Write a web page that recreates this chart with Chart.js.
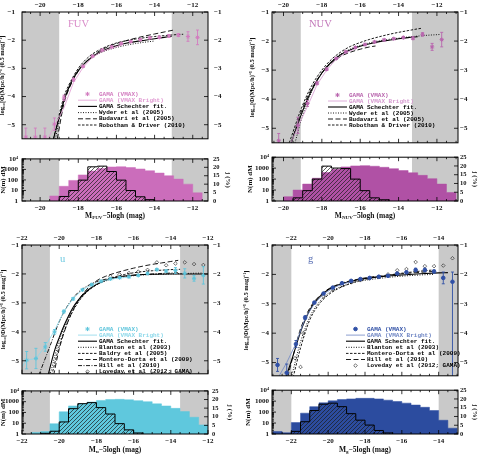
<!DOCTYPE html>
<html>
<head>
<meta charset="utf-8">
<script src="https://cdn.jsdelivr.net/npm/chart.js@4.4.1/dist/chart.umd.min.js"></script>
<style>
  body { margin: 0; background: #fff; }
  #wrap { position: relative; width: 479px; height: 455px; overflow: hidden; }
  canvas { position: absolute; }
</style>
</head>
<body>
<div id="wrap">
  <canvas id="fuvMain" width="240" height="150" style="left:0;top:0"></canvas>
  <canvas id="fuvHist" width="240" height="80" style="left:0;top:150px"></canvas>
  <canvas id="nuvMain" width="239" height="150" style="left:240px;top:0"></canvas>
  <canvas id="nuvHist" width="239" height="80" style="left:240px;top:150px"></canvas>
  <canvas id="uMain" width="240" height="150" style="left:0;top:233px"></canvas>
  <canvas id="uHist" width="240" height="72" style="left:0;top:383px"></canvas>
  <canvas id="gMain" width="239" height="150" style="left:240px;top:233px"></canvas>
  <canvas id="gHist" width="239" height="72" style="left:240px;top:383px"></canvas>
</div>
<script>
// Luminosity functions (FUV, NUV, u, g) with sample histograms underneath

// ---------- FUV ----------
const fuvMag = [-20.75, -20.25, -19.75, -19.25, -18.75, -18.25, -17.75, -17.25, -16.75, -16.25, -15.75, -15.25, -14.75, -14.25, -13.75, -13.25, -12.75, -12.25, -11.75]
const fuvPhi = [-5.44, -5.44, -5.44, -4.98, -4.05, -3.4, -2.93, -2.57, -2.35, -2.24, -2.12, -2.05, -1.98, -1.92, -1.9, -1.85, -1.82, -1.87, -1.9]
const fuvErr = [0.32, 0.32, 0.32, 0.22, 0.1, 0.05, 0.04, 0.03, 0.03, 0.03, 0.03, 0.03, 0.03, 0.03, 0.04, 0.05, 0.05, 0.17, 0.26]
const fuvBrightMag = [-19.75, -19.25, -18.75, -18.25, -17.75, -17.25, -16.75, -16.25, -15.75]
const fuvBrightPhi = [-5.7, -5.05, -4.4, -3.5, -2.97, -2.6, -2.4, -2.28, -2.18]
const fuvFitMag = [-19.3, -19, -18.75, -18.5, -18.25, -18, -17.5, -17, -16.5, -16, -15.5, -15, -14.5, -14, -13.5, -13.1]
const fuvFitPhi = [-5.5, -4.75, -4.15, -3.7, -3.35, -3.08, -2.72, -2.47, -2.31, -2.2, -2.11, -2.05, -2.0, -1.95, -1.9, -1.86]
const fuvWyderMag = [-19.2, -18.75, -18.5, -18, -17.5, -17, -16.5, -16, -15.5, -15, -14.5, -14]
const fuvWyderPhi = [-5.5, -4.1, -3.65, -3.05, -2.72, -2.5, -2.36, -2.26, -2.18, -2.12, -2.07, -2.03]
const fuvBudMag = [-19.1, -18.75, -18.5, -18, -17.5, -17, -16.5, -16, -15.5, -15, -14.5, -14, -13.5, -13]
const fuvBudPhi = [-5.5, -4.25, -3.75, -3.1, -2.7, -2.43, -2.25, -2.12, -2.02, -1.93, -1.85, -1.78, -1.71, -1.64]
const fuvRobMag = [-19.3, -18.75, -18.5, -18, -17.5, -17, -16.5, -16, -15.5, -15, -14.5, -14, -13.5, -13, -12.5]
const fuvRobPhi = [-5.5, -4.0, -3.6, -3.0, -2.62, -2.38, -2.22, -2.1, -2.02, -1.96, -1.91, -1.87, -1.84, -1.81, -1.79]
const fuvNStart = -19.5
const fuvN = [3, 25, 90, 300, 700, 1200, 1700, 1800, 1500, 1100, 750, 450, 250, 120, 40, 6]
const fuvJStart = -19
const fuvJ = [2.7, 6.2, 12.4, 20.3, 20.7, 17.5, 12.4, 6.2, 2.5, 0.8]
const fuvLimits = [-19.0, -13.1]

// ---------- NUV ----------
const nuvMag = [-20.25, -19.25, -18.75, -18.25, -17.75, -17.25, -16.75, -16.25, -15.75, -15.25, -14.75, -14.25, -13.75, -13.25, -12.75, -12.25, -11.75]
const nuvPhi = [-5.43, -4.9, -4.15, -3.45, -2.97, -2.6, -2.37, -2.22, -2.12, -2.03, -1.96, -1.92, -1.88, -1.9, -1.77, -2.2, -1.95]
const nuvErr = [0.25, 0.28, 0.1, 0.05, 0.04, 0.03, 0.03, 0.03, 0.03, 0.03, 0.03, 0.03, 0.04, 0.05, 0.06, 0.12, 0.25]
const nuvBrightMag = [-19.75, -19.25, -18.75, -18.25, -17.75, -17.25, -16.75, -16.25]
const nuvBrightPhi = [-5.7, -4.95, -4.25, -3.5, -3.0, -2.62, -2.4, -2.27]
const nuvFitMag = [-19.6, -19.25, -19, -18.75, -18.5, -18, -17.5, -17, -16.5, -16, -15.5, -15, -14.5, -14, -13.5, -13]
const nuvFitPhi = [-5.5, -4.85, -4.4, -4.0, -3.65, -3.1, -2.72, -2.46, -2.3, -2.18, -2.09, -2.02, -1.97, -1.92, -1.88, -1.85]
const nuvWyderMag = [-19.4, -19, -18.5, -18, -17.5, -17, -16.5, -16, -15.5, -15, -14.5, -14, -13.5, -13, -12.5, -12, -11.8]
const nuvWyderPhi = [-5.5, -4.55, -3.7, -3.1, -2.7, -2.44, -2.27, -2.15, -2.06, -1.99, -1.94, -1.9, -1.86, -1.83, -1.8, -1.78, -1.77]
const nuvBudMag = [-19.6, -19, -18.5, -18, -17.5, -17, -16.5, -16, -15.5, -15.2]
const nuvBudPhi = [-5.5, -4.3, -3.6, -3.1, -2.75, -2.52, -2.38, -2.28, -2.2, -2.17]
const nuvRobMag = [-19.7, -19, -18.5, -18, -17.5, -17, -16.5, -16, -15.5, -15, -14.5, -14, -13.5, -13, -12.8]
const nuvRobPhi = [-5.5, -4.2, -3.5, -3.0, -2.63, -2.37, -2.18, -2.05, -1.94, -1.85, -1.77, -1.7, -1.64, -1.58, -1.56]
const nuvNStart = -20
const nuvN = [2.5, 10, 35, 120, 400, 800, 1300, 1600, 1700, 1500, 1200, 900, 600, 380, 220, 110, 35, 6]
const nuvJStart = -19.5
const nuvJ = [1.8, 5.9, 12.5, 19.9, 18.8, 18.5, 12.5, 5.9, 1.8, 0.7]
const nuvLimits = [-19.1, -13.3]

// ---------- u ----------
const uMag = [-21.75, -21.25, -20.75, -20.25, -19.75, -19.25, -18.75, -18.25, -17.75, -17.25, -16.75, -16.25, -15.75, -15.25, -14.75, -14.25, -13.75, -13.25, -12.75, -12.25]
const uPhi = [-4.98, -4.92, -4.52, -4.0, -3.3, -2.86, -2.55, -2.37, -2.25, -2.17, -2.13, -2.1, -2.05, -1.98, -1.85, -1.9, -1.88, -1.98, -2.15, -2.05]
const uErr = [0.3, 0.35, 0.15, 0.08, 0.05, 0.04, 0.03, 0.03, 0.03, 0.03, 0.03, 0.03, 0.03, 0.03, 0.04, 0.04, 0.1, 0.16, 0.1, 0.3]
const uBrightMag = [-22.1, -21.75, -21.25, -20.75, -20.25, -19.75, -19.25, -18.75, -18.25, -17.75, -17.25, -16.75, -16.25]
const uBrightPhi = [-5.3, -4.98, -4.92, -4.5, -3.95, -3.3, -2.85, -2.55, -2.38, -2.26, -2.18, -2.14, -2.11]
const uFitMag = [-20.6, -20.25, -20, -19.75, -19.5, -19.25, -19, -18.5, -18, -17.5, -17, -16.5, -16, -15.5, -15, -14, -13, -12]
const uFitPhi = [-5.5, -4.65, -4.2, -3.8, -3.45, -3.15, -2.92, -2.58, -2.36, -2.22, -2.13, -2.07, -2.04, -2.02, -2.01, -2.0, -2.0, -2.0]
const uBlantonMag = [-20.5, -20, -19.5, -19, -18.5, -18, -17.5, -17, -16, -15, -14, -13, -12.3]
const uBlantonPhi = [-5.5, -4.3, -3.5, -2.95, -2.6, -2.38, -2.24, -2.15, -2.06, -2.02, -2.0, -1.98, -1.97]
const uBaldryMag = [-20.4, -20, -19.5, -19, -18.5, -18, -17.5, -17, -16.5, -16, -15.5, -15, -14.5, -14, -13.5]
const uBaldryPhi = [-5.5, -4.5, -3.6, -3.0, -2.62, -2.38, -2.22, -2.1, -2.02, -1.96, -1.92, -1.89, -1.87, -1.85, -1.84]
const uMonteroMag = [-20.3, -20, -19.5, -19, -18.5, -18, -17.5, -17, -16.5, -16, -15.5, -15, -14.5, -14, -13.6]
const uMonteroPhi = [-5.5, -4.6, -3.6, -2.95, -2.52, -2.24, -2.08, -1.97, -1.88, -1.8, -1.73, -1.67, -1.62, -1.57, -1.53]
const uHillMag = [-21.1, -20.5, -20, -19.5, -19, -18.5, -18, -17, -16, -15, -14, -13.6]
const uHillPhi = [-5.5, -4.5, -3.65, -3.05, -2.65, -2.42, -2.27, -2.12, -2.05, -2.0, -1.97, -1.96]
const uLoveMag = [-17.25, -16.75, -16.25, -15.75, -15.25, -14.75, -14.25, -13.75, -13.25, -12.75, -12.25]
const uLovePhi = [-2.08, -2.02, -1.97, -1.92, -1.86, -1.6, -1.7, -1.64, -1.6, -1.66, -1.69]
const uNStart = -21.5
const uN = [1.4, 1.7, 9, 115, 400, 630, 930, 1300, 1600, 1650, 1500, 1250, 1000, 630, 400, 240, 120, 36, 7]
const uJStart = -21
const uJ = [0.4, 1.6, 7, 14.7, 17.6, 18.2, 15.3, 11.6, 6, 2.4, 0.6]
const uLimits = [-20.5, -13.5]

// ---------- g ----------
const gMag = [-22.75, -22.25, -21.75, -21.25, -20.75, -20.25, -19.75, -19.25, -18.75, -18.25, -17.75, -17.25, -16.75, -16.25, -15.75, -15.25, -14.75, -14.25, -13.75, -13.25]
const gPhi = [-5.08, -5.35, -4.37, -3.47, -2.96, -2.65, -2.45, -2.3, -2.22, -2.16, -2.12, -2.08, -2.05, -1.97, -1.93, -1.85, -1.85, -1.9, -2.12, -2.25]
const gErr = [0.22, 0.3, 0.12, 0.06, 0.04, 0.03, 0.03, 0.03, 0.03, 0.03, 0.03, 0.03, 0.03, 0.03, 0.04, 0.06, 0.06, 0.05, 0.2, 0.33]
const gErrLow = [0.22, 0.3, 0.12, 0.06, 0.04, 0.03, 0.03, 0.03, 0.03, 0.03, 0.03, 0.03, 0.03, 0.03, 0.04, 0.06, 0.06, 0.05, 0.2, 3.3]
const gBrightMag = [-22.75, -22.25, -21.75, -21.25, -20.75, -20.25, -19.75, -19.25, -18.75]
const gBrightPhi = [-5.55, -5.0, -4.35, -3.5, -3.0, -2.67, -2.47, -2.33, -2.25]
const gFitMag = [-22.3, -22, -21.75, -21.5, -21.25, -21, -20.75, -20.5, -20, -19.5, -19, -18.5, -18, -17, -16, -15, -14, -13.5]
const gFitPhi = [-5.5, -4.95, -4.45, -3.95, -3.55, -3.22, -2.97, -2.78, -2.52, -2.37, -2.27, -2.2, -2.14, -2.07, -2.02, -1.98, -1.95, -1.94]
const gBlantonMag = [-22, -21.5, -21, -20.5, -20, -19.5, -19, -18.5, -18, -17, -16, -15, -14.3]
const gBlantonPhi = [-5.5, -4.3, -3.45, -2.95, -2.65, -2.47, -2.35, -2.26, -2.2, -2.12, -2.06, -2.02, -2.0]
const gMonteroMag = [-21.9, -21.5, -21, -20.5, -20, -19.5, -19, -18.5, -18, -17, -16, -15, -14.3]
const gMonteroPhi = [-5.5, -4.5, -3.55, -3.02, -2.7, -2.5, -2.36, -2.25, -2.17, -2.05, -1.96, -1.89, -1.85]
const gHillMag = [-22.2, -21.75, -21.5, -21, -20.5, -20, -19.5, -19, -18, -17, -16, -15, -14.3]
const gHillPhi = [-5.5, -4.4, -3.85, -3.15, -2.75, -2.5, -2.35, -2.25, -2.12, -2.04, -1.98, -1.93, -1.9]
const gLoveMag = [-21.8, -21.5, -21.35, -20.25, -19.75, -19.25, -18.75, -18.25, -17.75, -17.25, -16.75, -16.25, -15.75, -15.25, -14.75, -14.25, -13.75, -13.25]
const gLovePhi = [-4.85, -5.15, -4.0, -2.75, -2.52, -2.37, -2.27, -2.2, -2.14, -2.08, -2.0, -1.86, -1.82, -1.58, -1.72, -1.72, -1.7, -1.45]
const gNStart = -23
const gN = [1.7, 1.3, 11, 80, 316, 700, 1070, 1400, 1600, 1800, 1800, 1600, 1230, 930, 660, 440, 275, 140, 18, 3.4]
const gJStart = -22
const gJ = [1.5, 7, 13.4, 17, 17.6, 15.6, 11.6, 7.9, 5.1, 2, 0.6]
const gLimits = [-22, -14]

// ---------- helpers ----------
Chart.defaults.font.family = "'Liberation Serif', serif"
Chart.defaults.font.size = 7
Chart.defaults.font.weight = 'bold'
Chart.defaults.color = '#111'

const SERIF = "'Liberation Serif', serif"
const MONO = "'Liberation Mono', monospace"
const fmt = v => String(v).replace('-', '−')
const logLabel = v => ({1: '1', 10: '10', 100: '100', 1000: '1000', 10000: '10⁴'})[v] || ''
const pts = (mag, phi) => mag.map((m, i) => ({x: m, y: phi[i]}))

// histogram outline: start edge, 0.5 mag bins
const steps = (start, vals, base) => {
    const out = [{x: start, y: base}]
    vals.forEach((v, i) => out.push({x: start + i * 0.5, y: v}))
    out.push({x: start + vals.length * 0.5, y: base})
    return out
}

const hatch = (color) => {
    const c = document.createElement('canvas')
    c.width = 4; c.height = 4
    const g = c.getContext('2d')
    g.strokeStyle = color; g.lineWidth = 0.7
    g.beginPath()
    g.moveTo(0, 4); g.lineTo(4, 0)
    g.moveTo(-1, 1); g.lineTo(1, -1)
    g.moveTo(3, 5); g.lineTo(5, 3)
    g.stroke()
    return g.createPattern(c, 'repeat')
}

const mark = (ctx, style, x, y, r) => {
    ctx.beginPath()
    if (style === 'circle') {
        ctx.arc(x, y, r, 0, Math.PI * 2); ctx.fill(); ctx.stroke()
    } else if (style === 'rectRot') {
        ctx.moveTo(x, y - r); ctx.lineTo(x + r, y); ctx.lineTo(x, y + r); ctx.lineTo(x - r, y); ctx.closePath(); ctx.stroke()
    } else {
        for (let k = 0; k < 4; k++) {
            const t = k * Math.PI / 4
            ctx.moveTo(x - r * Math.cos(t), y - r * Math.sin(t)); ctx.lineTo(x + r * Math.cos(t), y + r * Math.sin(t))
        }
        ctx.stroke()
    }
}

// ---------- plugins ----------
const greyBands = (lo, hi) => ({
    id: 'greyBands',
    beforeDatasetsDraw(chart) {
        const {ctx, chartArea: a, scales: {x}} = chart
        const p1 = x.getPixelForValue(lo), p2 = x.getPixelForValue(hi)
        ctx.save()
        ctx.fillStyle = '#c9c9c9'
        ctx.fillRect(a.left, a.top, p1 - a.left, a.height)
        ctx.fillRect(p2, a.top, a.right - p2, a.height)
        ctx.restore()
    }
})

const inTicks = {
    id: 'inTicks',
    afterDraw(chart) {
        const {ctx, chartArea: a} = chart
        ctx.save()
        ctx.strokeStyle = '#000'
        ctx.lineWidth = 0.8
        Object.values(chart.scales).forEach(s => {
            const marks = []
            const isLog = s.type === 'logarithmic'
            s.ticks.forEach(t => {
                const major = !isLog || Math.abs(Math.log10(t.value) % 1) < 1e-6
                marks.push([t.value, major ? 4 : 2])
            })
            if (s.isHorizontal()) {
                for (let v = Math.ceil(s.min * 2) / 2; v <= s.max; v += 0.5) {
                    if (!s.ticks.some(t => Math.abs(t.value - v) < 1e-6)) marks.push([v, 2])
                }
            }
            marks.forEach(([v, len]) => {
                const p = s.getPixelForValue(v)
                ctx.beginPath()
                if (s.position === 'top') { ctx.moveTo(p, a.top); ctx.lineTo(p, a.top + len) }
                else if (s.position === 'bottom') { ctx.moveTo(p, a.bottom); ctx.lineTo(p, a.bottom - len) }
                else if (s.position === 'left') { ctx.moveTo(a.left, p); ctx.lineTo(a.left + len, p) }
                else { ctx.moveTo(a.right, p); ctx.lineTo(a.right - len, p) }
                ctx.stroke()
            })
        })
        ctx.lineWidth = 1
        ctx.strokeRect(a.left, a.top, a.width, a.height)
        ctx.restore()
    }
}

const errBars = (mag, phi, up, down, color) => ({
    id: 'errBars',
    afterDatasetsDraw(chart) {
        const {ctx, chartArea: a, scales: {x, y}} = chart
        ctx.save()
        ctx.beginPath(); ctx.rect(a.left, a.top, a.width, a.height); ctx.clip()
        ctx.strokeStyle = color
        ctx.lineWidth = 0.9
        mag.forEach((m, i) => {
            const px = x.getPixelForValue(m)
            const hi = y.getPixelForValue(phi[i] + up[i])
            const lo = y.getPixelForValue(phi[i] - down[i])
            ctx.beginPath()
            ctx.moveTo(px, lo); ctx.lineTo(px, hi)
            ctx.moveTo(px - 1.5, lo); ctx.lineTo(px + 1.5, lo)
            ctx.moveTo(px - 1.5, hi); ctx.lineTo(px + 1.5, hi)
            ctx.stroke()
        })
        ctx.restore()
    }
})

const legendBox = (dx, dy, gap) => ({
    id: 'legendBox',
    afterDatasetsDraw(chart) {
        const {ctx, chartArea: a} = chart
        ctx.save()
        ctx.font = "bold 6px " + MONO
        ctx.textBaseline = 'middle'
        chart.data.datasets.forEach((d, i) => {
            const y = a.top + dy + i * gap
            const x0 = a.left + dx, x1 = x0 + 19
            ctx.strokeStyle = d.borderColor
            ctx.fillStyle = d.backgroundColor
            ctx.lineWidth = d.borderWidth
            if (d.showLine === false) {
                mark(ctx, d.pointStyle, (x0 + x1) / 2, y, d.pointRadius)
            } else {
                ctx.setLineDash(d.borderDash || [])
                ctx.beginPath(); ctx.moveTo(x0, y); ctx.lineTo(x1, y); ctx.stroke()
                ctx.setLineDash([])
            }
            ctx.fillStyle = d.textColor || '#000'
            ctx.fillText(d.label, x1 + 2, y)
        })
        ctx.restore()
    }
})

const nameTag = (text, color, dx, dy) => ({
    id: 'nameTag',
    afterDraw(chart) {
        const {ctx, chartArea: a} = chart
        ctx.save()
        ctx.font = "10.5px " + SERIF
        ctx.fillStyle = color
        ctx.textBaseline = 'middle'
        ctx.fillText(text, a.left + dx, a.top + dy)
        ctx.restore()
    }
})

const magTitle = (sub, dy) => ({
    id: 'magTitle',
    afterDraw(chart) {
        const {ctx, chartArea: a} = chart
        const big = "bold 7.5px " + SERIF, small = "bold 5px " + SERIF
        const tail = '−5logh (mag)'
        ctx.save()
        ctx.fillStyle = '#111'
        ctx.textBaseline = 'middle'
        ctx.font = big
        const wM = ctx.measureText('M').width, wT = ctx.measureText(tail).width
        ctx.font = small
        const wS = ctx.measureText(sub).width
        let x = (a.left + a.right) / 2 - (wM + wS + wT) / 2
        const y = a.bottom + dy
        ctx.font = big; ctx.fillText('M', x, y); x += wM
        ctx.font = small; ctx.fillText(sub, x, y + 2); x += wS
        ctx.font = big; ctx.fillText(tail, x, y)
        ctx.restore()
    }
})

// ---------- chart builders ----------
const noGrid = {display: false, drawTicks: false}
const noBorder = {display: false}

function lineSet(label, mag, phi, dash, width) {
    return {label, data: pts(mag, phi), borderColor: '#000', backgroundColor: '#000', borderWidth: width || 0.9,
        borderDash: dash, pointRadius: 0, fill: false, cubicInterpolationMode: 'monotone'}
}

function mainChart(id, o) {
    return new Chart(document.getElementById(id), {
        type: 'line',
        data: {datasets: o.datasets},
        options: {
            responsive: false, animation: false, devicePixelRatio: 1,
            layout: {padding: 0, autoPadding: false},
            plugins: {legend: {display: false}, tooltip: {enabled: false}},
            scales: {
                x: {type: 'linear', position: 'bottom', min: o.xMin, max: o.xMax,
                    ticks: {display: false, stepSize: 2, includeBounds: false}, grid: noGrid, border: noBorder,
                    afterFit: s => { s.height = 2 }},
                x2: {type: 'linear', position: 'top', min: o.xMin, max: o.xMax,
                    ticks: {stepSize: 2, includeBounds: false, padding: o.topPad, callback: fmt, maxRotation: 0, autoSkip: false},
                    grid: noGrid, border: noBorder, afterFit: s => { s.height = 12 }},
                y: {type: 'linear', position: 'left', min: o.yMin, max: -1,
                    ticks: {stepSize: 1, includeBounds: false, padding: o.leftPad, callback: fmt, autoSkip: false},
                    title: {display: true, text: 'log₁₀[Φ(Mpc/h)⁻³ (0.5 mag)⁻¹]', font: {size: 6.5}, padding: {top: o.titlePad, bottom: 0}},
                    grid: noGrid, border: noBorder, afterFit: s => { s.width = o.left }},
                y2: {type: 'linear', position: 'right', min: o.yMin, max: -1,
                    ticks: {stepSize: 1, includeBounds: false, padding: o.rightPad, callback: fmt, autoSkip: false},
                    grid: noGrid, border: noBorder, afterFit: s => { s.width = o.right }}
            }
        },
        plugins: [greyBands(o.limits[0], o.limits[1]), inTicks, o.errors, legendBox(o.legend[0], o.legend[1], o.legend[2]), nameTag(o.name, o.nameColor, o.nameAt[0], o.nameAt[1])]
    })
}

function histChart(id, o) {
    return new Chart(document.getElementById(id), {
        type: 'line',
        data: {datasets: [
            {label: 'j', data: steps(o.jStart, o.j, 0), yAxisID: 'y2', stepped: true, borderColor: '#000', borderWidth: 1,
                backgroundColor: hatch('#1c1c1c'), fill: 'start', pointRadius: 0, order: 0},
            {label: 'N', data: steps(o.nStart, o.n, 1), yAxisID: 'y', stepped: true, borderColor: o.fill, borderWidth: 0.5,
                backgroundColor: o.fill, fill: 'start', pointRadius: 0, order: 1}
        ]},
        options: {
            responsive: false, animation: false, devicePixelRatio: 1,
            layout: {padding: 0, autoPadding: false},
            plugins: {legend: {display: false}, tooltip: {enabled: false}},
            scales: {
                x: {type: 'linear', position: 'bottom', min: o.xMin, max: o.xMax,
                    ticks: {stepSize: 2, includeBounds: false, padding: 3, callback: fmt, maxRotation: 0, autoSkip: false},
                    grid: noGrid, border: noBorder, afterFit: s => { s.height = o.bottom }},
                x2: {type: 'linear', position: 'top', min: o.xMin, max: o.xMax,
                    ticks: {display: false, stepSize: 2, includeBounds: false}, grid: noGrid, border: noBorder,
                    afterFit: s => { s.height = o.top }},
                y: {type: 'logarithmic', position: 'left', min: 1, max: 10000,
                    ticks: {padding: o.leftPad, callback: logLabel, autoSkip: false},
                    title: {display: true, text: 'N(m) dM', font: {size: 7}, padding: {top: o.titlePad, bottom: 0}},
                    grid: noGrid, border: noBorder, afterFit: s => { s.width = o.left }},
                y2: {type: 'linear', position: 'right', min: 0, max: 25,
                    ticks: {stepSize: 5, padding: o.rightPad, autoSkip: false, font: {size: 6.5}},
                    title: {display: true, text: 'j (%)', font: {size: 7}, padding: {top: o.rightTitlePad, bottom: 0}},
                    grid: noGrid, border: noBorder, afterFit: s => { s.width = o.right }}
            }
        },
        plugins: [greyBands(o.limits[0], o.limits[1]), inTicks, magTitle(o.sub, o.titleDy)]
    })
}

function pointSet(label, mag, phi, col, style) {
    return {label, data: pts(mag, phi), showLine: false, pointStyle: style, pointRadius: style === 'circle' ? 1.8 : 2.1,
        borderColor: col, backgroundColor: col, borderWidth: 1, textColor: col}
}
function brightSet(mag, phi, col) {
    return {label: 'GAMA (VMAX Bright)', data: pts(mag, phi), borderColor: col, backgroundColor: col, borderWidth: 0.8,
        pointRadius: 0, fill: false, textColor: col}
}
function loveSet(mag, phi) {
    return {label: 'Loveday et al (2012; GAMA)', data: pts(mag, phi), showLine: false, pointStyle: 'rectRot', pointRadius: 1.8,
        borderColor: '#333', backgroundColor: 'rgba(255,255,255,0)', borderWidth: 0.7}
}

const DOT = [1, 1.5], LONG = [5, 2.5], SHORT = [2.5, 1.5], DASHDOT = [4, 1.5, 1, 1.5]

// ---------- FUV ----------
const fuvCol = '#d27cbf'
mainChart('fuvMain', {
    xMin: -20.95, xMax: -11.2, yMin: -5.5, left: 22, right: 32, topPad: 3, leftPad: 7, rightPad: 6, titlePad: -1.5,
    limits: fuvLimits, legend: [56, 82, 6.2], name: 'FUV', nameColor: '#d98cc9', nameAt: [46, 12],
    errors: errBars(fuvMag, fuvPhi, fuvErr, fuvErr, fuvCol),
    datasets: [
        pointSet('GAMA (VMAX)', fuvMag, fuvPhi, fuvCol, 'star'),
        brightSet(fuvBrightMag, fuvBrightPhi, '#e19ad2'),
        lineSet('GAMA Schechter fit.', fuvFitMag, fuvFitPhi, [], 1.1),
        lineSet('Wyder et al (2005)', fuvWyderMag, fuvWyderPhi, DOT),
        lineSet('Budavari et al (2005)', fuvBudMag, fuvBudPhi, LONG),
        lineSet('Robotham & Driver (2010)', fuvRobMag, fuvRobPhi, SHORT)
    ]
})
histChart('fuvHist', {
    xMin: -20.95, xMax: -11.2, top: 5, bottom: 29, left: 22, right: 32, leftPad: 4, rightPad: 5, titlePad: -0.9, rightTitlePad: 7.8,
    limits: fuvLimits, fill: '#cb6dbb', nStart: fuvNStart, n: fuvN, jStart: fuvJStart, j: fuvJ, sub: 'FUV', titleDy: 15
})

// ---------- NUV ----------
const nuvCol = '#b966ae'
mainChart('nuvMain', {
    xMin: -20.6, xMax: -10.9, yMin: -5.5, left: 32, right: 21, topPad: 3, leftPad: 3, rightPad: 2, titlePad: 8.8,
    limits: nuvLimits, legend: [56, 83, 6.0], name: 'NUV', nameColor: '#c277b9', nameAt: [37, 12],
    errors: errBars(nuvMag, nuvPhi, nuvErr, nuvErr, nuvCol),
    datasets: [
        pointSet('GAMA (VMAX)', nuvMag, nuvPhi, nuvCol, 'star'),
        brightSet(nuvBrightMag, nuvBrightPhi, '#d69ad0'),
        lineSet('GAMA Schechter fit.', nuvFitMag, nuvFitPhi, [], 1.1),
        lineSet('Wyder et al (2005)', nuvWyderMag, nuvWyderPhi, DOT),
        lineSet('Budavari et al (2005)', nuvBudMag, nuvBudPhi, LONG),
        lineSet('Robotham & Driver (2010)', nuvRobMag, nuvRobPhi, SHORT)
    ]
})
histChart('nuvHist', {
    xMin: -20.6, xMax: -10.9, top: 5, bottom: 29, left: 32, right: 21, leftPad: 3, rightPad: 2, titlePad: 5.8, rightTitlePad: -0.2,
    limits: nuvLimits, fill: '#b051a5', nStart: nuvNStart, n: nuvN, jStart: nuvJStart, j: nuvJ, sub: 'NUV', titleDy: 15
})

// ---------- u ----------
const uCol = '#5ec5dc'
mainChart('uMain', {
    xMin: -22, xMax: -12, yMin: -5.45, left: 22, right: 32, topPad: 2.5, leftPad: 3, rightPad: 5, titlePad: -0.2,
    limits: uLimits, legend: [56, 84, 6.1], name: 'u', nameColor: '#6cc9e0', nameAt: [38, 14],
    errors: errBars(uMag, uPhi, uErr, uErr, uCol),
    datasets: [
        pointSet('GAMA (VMAX)', uMag, uPhi, uCol, 'star'),
        brightSet(uBrightMag, uBrightPhi, '#8cd8ea'),
        lineSet('GAMA Schechter fit.', uFitMag, uFitPhi, [], 1.1),
        lineSet('Blanton et al (2003)', uBlantonMag, uBlantonPhi, DOT),
        lineSet('Baldry et al (2005)', uBaldryMag, uBaldryPhi, SHORT),
        lineSet('Montero-Dorta et al (2009)', uMonteroMag, uMonteroPhi, LONG),
        lineSet('Hill et al (2010)', uHillMag, uHillPhi, DASHDOT),
        loveSet(uLoveMag, uLovePhi)
    ]
})
histChart('uHist', {
    xMin: -22, xMax: -12, top: 6, bottom: 21, left: 22, right: 32, leftPad: 3, rightPad: 4, titlePad: -0.9, rightTitlePad: 5.8,
    limits: uLimits, fill: '#5fc8dd', nStart: uNStart, n: uN, jStart: uJStart, j: uJ, sub: 'u', titleDy: 16
})

// ---------- g ----------
const gCol = '#3050a6'
mainChart('gMain', {
    xMin: -23.05, xMax: -12.95, yMin: -5.45, left: 32, right: 21, topPad: 2.5, leftPad: 3, rightPad: 2, titlePad: 2.8,
    limits: gLimits, legend: [74, 84, 6.1], name: 'g', nameColor: '#5a70b4', nameAt: [36, 14],
    errors: errBars(gMag, gPhi, gErr, gErrLow, gCol),
    datasets: [
        pointSet('GAMA (VMAX)', gMag, gPhi, gCol, 'circle'),
        brightSet(gBrightMag, gBrightPhi, '#6f86c4'),
        lineSet('GAMA Schechter fit.', gFitMag, gFitPhi, [], 1.1),
        lineSet('Blanton et al (2003)', gBlantonMag, gBlantonPhi, DOT),
        lineSet('Montero-Dorta et al (2009)', gMonteroMag, gMonteroPhi, SHORT),
        lineSet('Hill et al (2010)', gHillMag, gHillPhi, LONG),
        loveSet(gLoveMag, gLovePhi)
    ]
})
histChart('gHist', {
    xMin: -23.05, xMax: -12.95, top: 6, bottom: 21, left: 32, right: 21, leftPad: 3, rightPad: 2, titlePad: 3.8, rightTitlePad: -0.2,
    limits: gLimits, fill: '#2c4c9f', nStart: gNStart, n: gN, jStart: gJStart, j: gJ, sub: 'g', titleDy: 16
})
</script>
</body>
</html>
